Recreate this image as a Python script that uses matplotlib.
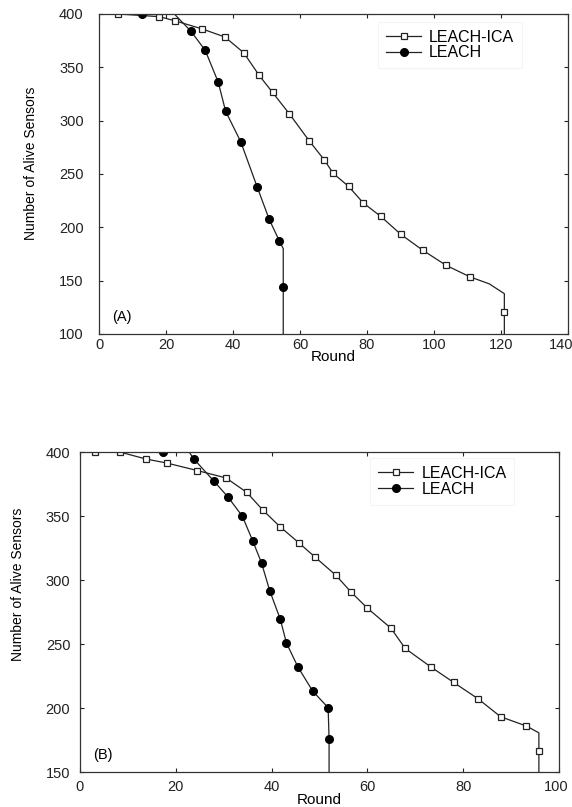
import matplotlib
matplotlib.use("Agg")
import matplotlib.pyplot as plt
from matplotlib.transforms import ScaledTranslation

plt.rcParams['font.family'] = ['Liberation Sans', 'DejaVu Sans']

# (A) data
ica_a_x = [5.8, 18, 22.6, 30.8, 37.6, 43.2, 47.8, 51.8, 56.8, 62.7, 67.3, 69.9, 74.5, 78.9,
           84.1, 90.1, 96.7, 103.6, 110.8, 116.5, 121, 121, 121]
ica_a_y = [400, 397.5, 393.7, 386, 378.4, 363.7, 342.5, 326.5, 306.5, 281.3, 263, 250.6, 238.4,
           222.8, 210.3, 193.4, 178.4, 164.4, 153.5, 147, 137.8, 121, 100]
ica_a_marks = [0, 1, 2, 3, 4, 5, 6, 7, 8, 9, 10, 11, 12, 13, 14, 15, 16, 17, 18, 21]

leach_a_x = [12.7, 22.5, 27.4, 31.7, 35.6, 37.8, 42.3, 47.2, 50.8, 53.8, 55, 55, 55]
leach_a_y = [400, 400, 384, 366, 336, 308.8, 280.3, 238, 207.5, 187.5, 180, 143.8, 100]
leach_a_marks = [0, 2, 3, 4, 5, 6, 7, 8, 9, 11]

# (B) data
ica_b_x = [3.1, 8.3, 13.8, 18.1, 24.5, 30.5, 34.8, 38.2, 41.8, 45.7, 49.1, 53.4, 56.6, 60.0,
           64.9, 67.9, 73.2, 78.0, 83.1, 87.8, 93.2, 95.8, 95.8, 95.8]
ica_b_y = [400, 400, 394.5, 391.4, 385.5, 379.7, 368.5, 354.5, 341.5, 329, 317.8, 303.8, 290.5,
           278, 262.4, 246.5, 232.2, 220, 207.2, 193.2, 185.9, 180.6, 166.3, 150]
ica_b_marks = [0, 1, 2, 3, 4, 5, 6, 7, 8, 9, 10, 11, 12, 13, 14, 15, 16, 17, 18, 19, 20, 22]

leach_b_x = [17.3, 22.8, 23.7, 28.0, 30.9, 33.9, 36.1, 37.9, 39.6, 41.8, 43.1, 45.5, 48.6,
             51.8, 52.0, 52.0]
leach_b_y = [400, 400, 394.8, 377.1, 364.8, 349.8, 330.2, 313.3, 291.7, 269.5, 250.8, 232,
             213.1, 200.3, 175.9, 150]
leach_b_marks = [0, 2, 3, 4, 5, 6, 7, 8, 9, 10, 11, 12, 13, 14]

fig = plt.figure(figsize=(5.72, 8.07), dpi=100)
ax1 = fig.add_axes([99 / 572, 1 - 334 / 807, 469 / 572, 320 / 807])
ax2 = fig.add_axes([80 / 572, 1 - 772 / 807, 479 / 572, 320 / 807])

line_col = '#222222'


def draw(ax, ix, iy, im, lx, ly, lm, xlim, ylim, xticks, yticks, tag, ylab_pos, xlab_y,
         leg_anchor, ypad, xpad):
    ax.plot(ix, iy, color=line_col, lw=0.9, marker='s', ms=5, mfc='white', mec=line_col,
            mew=0.9, markevery=im, label='LEACH-ICA')
    ax.plot(lx, ly, color=line_col, lw=0.9, marker='o', ms=5.5, mfc='black', mec='black',
            markevery=lm, label='LEACH')
    ax.set_xlim(*xlim)
    ax.set_ylim(*ylim)
    ax.set_xticks(xticks)
    ax.set_yticks(yticks)
    ax.tick_params(direction='in', top=True, right=True, length=3, width=0.8,
                   labelsize=10.5, colors='#222222')
    ax.tick_params(axis='y', pad=ypad)
    ax.tick_params(axis='x', pad=xpad)
    for s in ax.spines.values():
        s.set_color('#333333')
        s.set_linewidth(0.9)
    ax.set_xlabel('Round', fontsize=11)
    ax.xaxis.set_label_coords(0.5, xlab_y)
    ax.xaxis.label.set_va('center')
    ax.set_ylabel('Number of Alive Sensors', fontsize=10,
                  family=['Liberation Sans Narrow', 'Liberation Sans'])
    ax.yaxis.set_label_coords(*ylab_pos)
    ax.yaxis.label.set_va('center')
    ax.text(0.027, 0.053, tag, transform=ax.transAxes, fontsize=10.5, va='center', ha='left')
    leg = ax.legend(loc='upper left', bbox_to_anchor=leg_anchor, borderaxespad=0,
                    fontsize=11.5, handlelength=2.2, handletextpad=0.5, labelspacing=0.05,
                    borderpad=0.5, frameon=True, fancybox=False)
    leg.get_frame().set_edgecolor('#f2f2f2')
    leg.get_frame().set_linewidth(0.8)


draw(ax1, ica_a_x, ica_a_y, ica_a_marks, leach_a_x, leach_a_y, leach_a_marks,
     (0, 140), (100, 400), range(0, 141, 20), range(100, 401, 50), '(A)',
     (-0.145, 0.534), -0.072, (0.595, 0.976), 11, 3)
draw(ax2, ica_b_x, ica_b_y, ica_b_marks, leach_b_x, leach_b_y, leach_b_marks,
     (0, 100), (150, 400), range(0, 101, 20), range(150, 401, 50), '(B)',
     (-0.130, 0.5875), -0.0875, (0.606, 0.982), 7, 6)

# the last tick labels sit against the right edge of the figure, nudge them left
fig.canvas.draw()
for ax, dx in [(ax1, -5), (ax2, -2)]:
    last = ax.xaxis.get_major_ticks()[-1].label1
    last.set_transform(last.get_transform() + ScaledTranslation(dx / 72, 0, fig.dpi_scale_trans))

fig.savefig('out.png', dpi=100)
